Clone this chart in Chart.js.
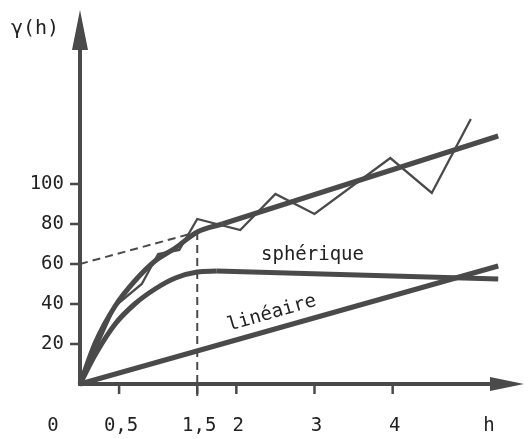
<!DOCTYPE html>
<html>
<head>
<meta charset="utf-8">
<script src="https://cdn.jsdelivr.net/npm/chart.js@4"></script>
<style>
  html, body { margin: 0; padding: 0; background: #fff; }
  #wrap { width: 531px; height: 439px; }
</style>
</head>
<body>
<div id="wrap"><canvas id="Chart" width="531" height="439"></canvas></div>
<script>
// experimental variogram (thin zigzag)
const expH = [0, 0.45, 0.79, 1.0, 1.27, 1.5, 2.05, 2.5, 3.0, 3.97, 4.5, 5.0];
const expG = [0, 39, 50, 65, 67, 82.5, 77, 95, 85, 113, 95.5, 132.5];
// fitted model (thick, upper): curved start then straight
const modelH = [0, 0.2, 0.45, 0.7, 0.96, 1.22, 1.5, 1.82];
const modelG = [0, 21, 39, 51.5, 61.5, 68, 76, 80];
const modelLineH = [1.82, 5.35];
const modelLineG = [80, 124];
// sphérique
const sphH = [0, 0.2, 0.45, 0.7, 0.96, 1.22, 1.5, 1.75];
const sphG = [0, 15, 30, 40, 47.5, 53, 56, 56.5];
const sphLineH = [1.75, 5.35];
const sphLineG = [56.5, 52.5];
// linéaire
const linH = [0, 5.35];
const linG = [0, 59];
// dashed extension of the linear part
const dashH = [0, 1.5];
const dashG = [60, 76];
// vertical dashed at h = 1,5
const vertH = [1.5, 1.5];
const vertG = [76, -6];

const xTicks = [0.5, 1.5, 2, 3, 4];
const xTickLabels = ["0,5", "1,5", "2", "3", "4"];
const yTicks = [20, 40, 60, 80, 100];
const yTickLabels = ["20", "40", "60", "80", "100"];

const ink = "#4a4a4a";
const font = "'DejaVu Sans Mono', 'Liberation Mono', monospace";

function pts(xs, ys) {
  return xs.map((x, i) => ({ x: x, y: ys[i] }));
}

function line(xs, ys, width, extra) {
  return Object.assign(
    {
      data: pts(xs, ys),
      showLine: true,
      borderColor: ink,
      borderWidth: width,
      pointRadius: 0,
      tension: 0,
    },
    extra || {}
  );
}

const axes = {
  id: "axes",
  afterDatasetsDraw(chart) {
    const { ctx, scales } = chart;
    const xs = scales.x, ys = scales.y;
    const x0 = xs.getPixelForValue(0), y0 = ys.getPixelForValue(0);
    const xEnd = xs.right, yTop = ys.top;
    ctx.save();
    ctx.strokeStyle = ink;
    ctx.fillStyle = ink;
    ctx.lineWidth = 4;
    ctx.lineCap = "butt";
    // axes lines
    ctx.beginPath();
    ctx.moveTo(x0, y0 + 2);
    ctx.lineTo(x0, yTop + 30);
    ctx.moveTo(x0 - 2, y0);
    ctx.lineTo(xEnd - 25, y0);
    ctx.stroke();
    // arrow heads
    ctx.beginPath();
    ctx.moveTo(x0, yTop);
    ctx.lineTo(x0 - 8, yTop + 40);
    ctx.lineTo(x0 + 8, yTop + 40);
    ctx.closePath();
    ctx.fill();
    ctx.beginPath();
    ctx.moveTo(xEnd, y0);
    ctx.lineTo(xEnd - 34, y0 - 7);
    ctx.lineTo(xEnd - 34, y0 + 7);
    ctx.closePath();
    ctx.fill();
    // ticks
    ctx.lineWidth = 2.5;
    ctx.beginPath();
    xTicks.forEach((t) => {
      const px = xs.getPixelForValue(t);
      ctx.moveTo(px, y0);
      ctx.lineTo(px, y0 + 10);
    });
    yTicks.forEach((t) => {
      const py = ys.getPixelForValue(t);
      ctx.moveTo(x0, py);
      ctx.lineTo(x0 - 10, py);
    });
    ctx.stroke();
    // tick labels
    ctx.fillStyle = "#222";
    ctx.font = "19px " + font;
    ctx.textBaseline = "middle";
    ctx.textAlign = "center";
    xTicks.forEach((t, i) => {
      ctx.fillText(xTickLabels[i], xs.getPixelForValue(t) + 2, 426);
    });
    ctx.fillText("0", 53, 426);
    ctx.fillText("h", 489, 426);
    ctx.textAlign = "right";
    yTicks.forEach((t, i) => {
      ctx.fillText(yTickLabels[i], 64, ys.getPixelForValue(t));
    });
    ctx.textAlign = "left";
    ctx.font = "20px " + font;
    ctx.fillText("\u03b3(h)", 11, 29);
    // curve names
    ctx.font = "19px " + font;
    ctx.fillText("sphérique", 261, 255);
    ctx.save();
    ctx.translate(228, 326);
    ctx.rotate(-0.28);
    ctx.fillText("linéaire", 0, 0);
    ctx.restore();
    ctx.restore();
  },
};

const ctx = document.getElementById("Chart");

new Chart(ctx, {
  type: "scatter",
  data: {
    datasets: [
      line(expH, expG, 2.3),
      line(modelH, modelG, 5, { cubicInterpolationMode: "monotone" }),
      line(modelLineH, modelLineG, 5),
      line(sphH, sphG, 5, { cubicInterpolationMode: "monotone" }),
      line(sphLineH, sphLineG, 5),
      line(linH, linG, 5),
      line(dashH, dashG, 2, { borderDash: [8, 5] }),
      line(vertH, vertG, 2, { borderDash: [8, 5] }),
    ],
  },
  options: {
    responsive: false,
    animation: false,
    events: [],
    clip: false,
    layout: { padding: { left: 80, right: 7, top: 10, bottom: 55 } },
    plugins: { legend: { display: false }, tooltip: { enabled: false } },
    scales: {
      x: { type: "linear", display: false, min: 0, max: 5.68 },
      y: { type: "linear", display: false, min: 0, max: 187 },
    },
  },
  plugins: [axes],
});
</script>
</body>
</html>
